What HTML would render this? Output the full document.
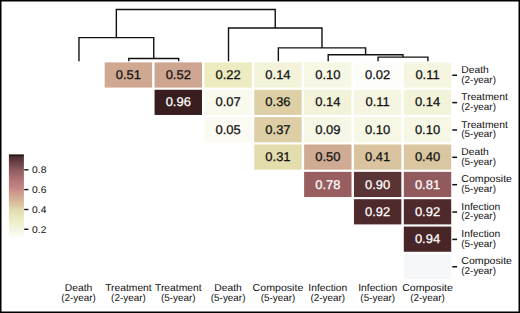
<!DOCTYPE html>
<html><head><meta charset="utf-8"><style>
html,body{margin:0;padding:0;background:#fff;}
body{width:520px;height:313px;overflow:hidden;}
svg{display:block;}
text{font-family:"Liberation Sans",sans-serif;text-rendering:geometricPrecision;}
</style></head><body>
<svg width="520" height="313" viewBox="0 0 520 313">
<rect x="0" y="0" width="520" height="313" fill="#fff"/>

<rect x="104.71" y="62.4" width="47.4" height="25.2" fill="#cfa892"/>
<rect x="154.56" y="62.4" width="47.4" height="25.2" fill="#cea590"/>
<rect x="204.41" y="62.4" width="47.4" height="25.2" fill="#ececc0"/>
<rect x="254.26" y="62.4" width="47.4" height="25.2" fill="#f3f3da"/>
<rect x="304.11" y="62.4" width="47.4" height="25.2" fill="#f7f7e5"/>
<rect x="353.96" y="62.4" width="47.4" height="25.2" fill="#fdfdfa"/>
<rect x="403.81" y="62.4" width="47.4" height="25.2" fill="#f5f5e2"/>
<rect x="154.56" y="89.76" width="47.4" height="25.2" fill="#3a1e1f"/>
<rect x="204.41" y="89.76" width="47.4" height="25.2" fill="#f9f9ee"/>
<rect x="254.26" y="89.76" width="47.4" height="25.2" fill="#ded0a6"/>
<rect x="304.11" y="89.76" width="47.4" height="25.2" fill="#f3f3da"/>
<rect x="353.96" y="89.76" width="47.4" height="25.2" fill="#f5f5e2"/>
<rect x="403.81" y="89.76" width="47.4" height="25.2" fill="#f3f3da"/>
<rect x="204.41" y="117.12" width="47.4" height="25.2" fill="#fbfbf3"/>
<rect x="254.26" y="117.12" width="47.4" height="25.2" fill="#ddcea5"/>
<rect x="304.11" y="117.12" width="47.4" height="25.2" fill="#f7f7e7"/>
<rect x="353.96" y="117.12" width="47.4" height="25.2" fill="#f7f7e5"/>
<rect x="403.81" y="117.12" width="47.4" height="25.2" fill="#f7f7e5"/>
<rect x="254.26" y="144.48" width="47.4" height="25.2" fill="#e3dcad"/>
<rect x="304.11" y="144.48" width="47.4" height="25.2" fill="#d0ab93"/>
<rect x="353.96" y="144.48" width="47.4" height="25.2" fill="#dac4a0"/>
<rect x="403.81" y="144.48" width="47.4" height="25.2" fill="#dac6a1"/>
<rect x="304.11" y="171.84" width="47.4" height="25.2" fill="#985e60"/>
<rect x="353.96" y="171.84" width="47.4" height="25.2" fill="#5a3334"/>
<rect x="403.81" y="171.84" width="47.4" height="25.2" fill="#915a5c"/>
<rect x="353.96" y="199.2" width="47.4" height="25.2" fill="#4e2a2c"/>
<rect x="403.81" y="199.2" width="47.4" height="25.2" fill="#4e2a2c"/>
<rect x="403.81" y="226.56" width="47.4" height="25.2" fill="#482628"/>
<rect x="403.81" y="253.92" width="47.4" height="25.2" fill="#f6f7f9"/>
<g font-size="12.6" text-anchor="middle" stroke-width="0.25">
<text transform="translate(128.41 79.1) scale(1.03 1)" fill="#111" stroke="#111">0.51</text>
<text transform="translate(178.26 79.1) scale(1.03 1)" fill="#111" stroke="#111">0.52</text>
<text transform="translate(228.11 79.1) scale(1.03 1)" fill="#111" stroke="#111">0.22</text>
<text transform="translate(277.96 79.1) scale(1.03 1)" fill="#111" stroke="#111">0.14</text>
<text transform="translate(327.81 79.1) scale(1.03 1)" fill="#111" stroke="#111">0.10</text>
<text transform="translate(377.66 79.1) scale(1.03 1)" fill="#111" stroke="#111">0.02</text>
<text transform="translate(427.51 79.1) scale(1.03 1)" fill="#111" stroke="#111">0.11</text>
<text transform="translate(178.26 106.46) scale(1.03 1)" fill="#fff" stroke="#fff">0.96</text>
<text transform="translate(228.11 106.46) scale(1.03 1)" fill="#111" stroke="#111">0.07</text>
<text transform="translate(277.96 106.46) scale(1.03 1)" fill="#111" stroke="#111">0.36</text>
<text transform="translate(327.81 106.46) scale(1.03 1)" fill="#111" stroke="#111">0.14</text>
<text transform="translate(377.66 106.46) scale(1.03 1)" fill="#111" stroke="#111">0.11</text>
<text transform="translate(427.51 106.46) scale(1.03 1)" fill="#111" stroke="#111">0.14</text>
<text transform="translate(228.11 133.82) scale(1.03 1)" fill="#111" stroke="#111">0.05</text>
<text transform="translate(277.96 133.82) scale(1.03 1)" fill="#111" stroke="#111">0.37</text>
<text transform="translate(327.81 133.82) scale(1.03 1)" fill="#111" stroke="#111">0.09</text>
<text transform="translate(377.66 133.82) scale(1.03 1)" fill="#111" stroke="#111">0.10</text>
<text transform="translate(427.51 133.82) scale(1.03 1)" fill="#111" stroke="#111">0.10</text>
<text transform="translate(277.96 161.18) scale(1.03 1)" fill="#111" stroke="#111">0.31</text>
<text transform="translate(327.81 161.18) scale(1.03 1)" fill="#111" stroke="#111">0.50</text>
<text transform="translate(377.66 161.18) scale(1.03 1)" fill="#111" stroke="#111">0.41</text>
<text transform="translate(427.51 161.18) scale(1.03 1)" fill="#111" stroke="#111">0.40</text>
<text transform="translate(327.81 188.54) scale(1.03 1)" fill="#fff" stroke="#fff">0.78</text>
<text transform="translate(377.66 188.54) scale(1.03 1)" fill="#fff" stroke="#fff">0.90</text>
<text transform="translate(427.51 188.54) scale(1.03 1)" fill="#fff" stroke="#fff">0.81</text>
<text transform="translate(377.66 215.9) scale(1.03 1)" fill="#fff" stroke="#fff">0.92</text>
<text transform="translate(427.51 215.9) scale(1.03 1)" fill="#fff" stroke="#fff">0.92</text>
<text transform="translate(427.51 243.26) scale(1.03 1)" fill="#fff" stroke="#fff">0.94</text>
</g>
<g font-size="10" fill="#111">
<rect x="452.3" y="74.5" width="4.8" height="1.5" fill="#111"/>
<text transform="translate(461.3 72.95) scale(1.03 1)">Death</text>
<text transform="translate(461.3 82.65) scale(0.99 1)">(2-year)</text>
<rect x="452.3" y="101.86" width="4.8" height="1.5" fill="#111"/>
<text transform="translate(461.3 100.31) scale(1.03 1)">Treatment</text>
<text transform="translate(461.3 110.01) scale(0.99 1)">(2-year)</text>
<rect x="452.3" y="129.22" width="4.8" height="1.5" fill="#111"/>
<text transform="translate(461.3 127.67) scale(1.03 1)">Treatment</text>
<text transform="translate(461.3 137.37) scale(0.99 1)">(5-year)</text>
<rect x="452.3" y="156.58" width="4.8" height="1.5" fill="#111"/>
<text transform="translate(461.3 155.03) scale(1.03 1)">Death</text>
<text transform="translate(461.3 164.73) scale(0.99 1)">(5-year)</text>
<rect x="452.3" y="183.94" width="4.8" height="1.5" fill="#111"/>
<text transform="translate(461.3 182.39) scale(1.06 1)">Composite</text>
<text transform="translate(461.3 192.09) scale(0.99 1)">(5-year)</text>
<rect x="452.3" y="211.3" width="4.8" height="1.5" fill="#111"/>
<text transform="translate(461.3 209.75) scale(1.03 1)">Infection</text>
<text transform="translate(461.3 219.45) scale(0.99 1)">(2-year)</text>
<rect x="452.3" y="238.66" width="4.8" height="1.5" fill="#111"/>
<text transform="translate(461.3 237.11) scale(1.03 1)">Infection</text>
<text transform="translate(461.3 246.81) scale(0.99 1)">(5-year)</text>
<rect x="452.3" y="266.02" width="4.8" height="1.5" fill="#111"/>
<text transform="translate(461.3 264.47) scale(1.06 1)">Composite</text>
<text transform="translate(461.3 274.17) scale(0.99 1)">(2-year)</text>
</g>
<g font-size="10" fill="#111" text-anchor="middle">
<text transform="translate(78.56 290.9) scale(1.03 1)">Death</text>
<text transform="translate(78.56 300.9) scale(0.99 1)">(2-year)</text>
<text transform="translate(128.41 290.9) scale(1.03 1)">Treatment</text>
<text transform="translate(128.41 300.9) scale(0.99 1)">(2-year)</text>
<text transform="translate(178.26 290.9) scale(1.03 1)">Treatment</text>
<text transform="translate(178.26 300.9) scale(0.99 1)">(5-year)</text>
<text transform="translate(228.11 290.9) scale(1.03 1)">Death</text>
<text transform="translate(228.11 300.9) scale(0.99 1)">(5-year)</text>
<text transform="translate(277.96 290.9) scale(1.06 1)">Composite</text>
<text transform="translate(277.96 300.9) scale(0.99 1)">(5-year)</text>
<text transform="translate(327.81 290.9) scale(1.03 1)">Infection</text>
<text transform="translate(327.81 300.9) scale(0.99 1)">(2-year)</text>
<text transform="translate(377.66 290.9) scale(1.03 1)">Infection</text>
<text transform="translate(377.66 300.9) scale(0.99 1)">(5-year)</text>
<text transform="translate(427.51 290.9) scale(1.06 1)">Composite</text>
<text transform="translate(427.51 300.9) scale(0.99 1)">(2-year)</text>
</g>
<path d="M128.81 61.2 V58.5 H178.66 V61.2 M78.96 61.2 V37.6 H153.74 V58.5 M378.06 61.2 V57.1 H427.91 V61.2 M328.21 61.2 V54.7 H402.99 V57.1 M278.36 61.2 V47.9 H365.6 V54.7 M228.51 61.2 V28 H321.98 V47.9 M116.35 37.6 V9.5 H275.24 V28" fill="none" stroke="#111" stroke-width="1.4"/>
<defs><linearGradient id="cb" x1="0" y1="0" x2="0" y2="1"><stop offset="0.0000" stop-color="#241012"/><stop offset="0.0178" stop-color="#2c1517"/><stop offset="0.0262" stop-color="#4a2c30"/><stop offset="0.0428" stop-color="#543236"/><stop offset="0.1260" stop-color="#744a4e"/><stop offset="0.1974" stop-color="#925e62"/><stop offset="0.3044" stop-color="#b27478"/><stop offset="0.3876" stop-color="#c28282"/><stop offset="0.4590" stop-color="#cc9c8c"/><stop offset="0.5422" stop-color="#d6b496"/><stop offset="0.6017" stop-color="#dcc6a0"/><stop offset="0.6611" stop-color="#e3dab0"/><stop offset="0.7325" stop-color="#e8e6bc"/><stop offset="0.8038" stop-color="#eeeecc"/><stop offset="0.8870" stop-color="#f4f4e0"/><stop offset="0.9465" stop-color="#fafaf2"/><stop offset="1.0000" stop-color="#ffffff"/></linearGradient></defs>
<rect x="8.9" y="154.4" width="15.0" height="84.1" fill="url(#cb)"/>
<g font-size="10" fill="#111">
<rect x="24.2" y="169.1" width="4.2" height="1.4" fill="#111"/>
<text transform="translate(32.1 173.2) scale(1.06 1)" font-size="9.7">0.8</text>
<rect x="24.2" y="188.9" width="4.2" height="1.4" fill="#111"/>
<text transform="translate(32.1 193) scale(1.06 1)" font-size="9.7">0.6</text>
<rect x="24.2" y="208.8" width="4.2" height="1.4" fill="#111"/>
<text transform="translate(32.1 212.9) scale(1.06 1)" font-size="9.7">0.4</text>
<rect x="24.2" y="228.6" width="4.2" height="1.4" fill="#111"/>
<text transform="translate(32.1 232.7) scale(1.06 1)" font-size="9.7">0.2</text>
</g>
<rect x="0.75" y="0.75" width="518.5" height="311.5" fill="none" stroke="#000" stroke-width="1.5"/>
</svg></body></html>
